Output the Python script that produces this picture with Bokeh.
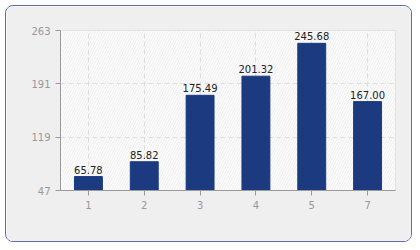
from bokeh.plotting import figure
from bokeh.models import ColumnDataSource, FixedTicker, BoxAnnotation, Range1d
from bokeh.core.properties import value
from bokeh.embed import file_html
from bokeh.resources import INLINE

categories = ["1", "2", "3", "4", "5", "7"]
values = [65.78, 85.82, 175.49, 201.32, 245.68, 167.00]
y_ticks = [47, 119, 191, 263]

labels = ["%.2f" % v for v in values]
src = ColumnDataSource(dict(x=categories, top=values, label=labels))

FONT = "DejaVu Sans"

p = figure(x_range=categories, y_range=Range1d(47, 263),
           width=407, height=237, output_backend="svg", toolbar_location=None,
           min_border_left=54, min_border_top=24, min_border_right=18, min_border_bottom=53)
p.margin = (5, 5, 5, 5)
p.styles = {"border": "1px solid #5b6fa5", "border-radius": "8px", "overflow": "hidden"}
p.border_fill_color = "#efefef"
p.background_fill_color = "#fdfdfd"
p.outline_line_color = "#e2e2e2"
p.x_range.range_padding = 0

p.add_layout(BoxAnnotation(fill_alpha=0, line_alpha=0, hatch_pattern="/",
                           hatch_color="#e2e2e2", hatch_scale=5, hatch_weight=0.6,
                           level="underlay"))

p.vbar(x="x", top="top", bottom=0, width=0.5, source=src,
       fill_color="#1b3a80", line_color="#1b3a80")
p.text(x="x", y="top", text="label", source=src, text_align="center",
       text_baseline="bottom", y_offset=-3, text_font=value(FONT),
       text_font_size="10px", text_color="#222222")

p.yaxis.ticker = FixedTicker(ticks=y_ticks)
for ax in (p.xaxis[0], p.yaxis[0]):
    ax.axis_line_color = "#999999"
    ax.major_tick_line_color = "#999999"
    ax.minor_tick_line_color = None
    ax.major_tick_out = 5
    ax.major_tick_in = 0
    ax.major_label_text_color = "#999999"
    ax.major_label_text_font = FONT
    ax.major_label_text_font_size = "10px"
p.yaxis.major_label_standoff = 5
p.xaxis.major_label_standoff = 5

p.xgrid.grid_line_color = "#dcdcdc"
p.xgrid.grid_line_dash = "5 3"
p.ygrid.grid_line_color = "#dcdcdc"
p.ygrid.grid_line_dash = "5 3"

open("out.html", "w").write(file_html(p, INLINE))
